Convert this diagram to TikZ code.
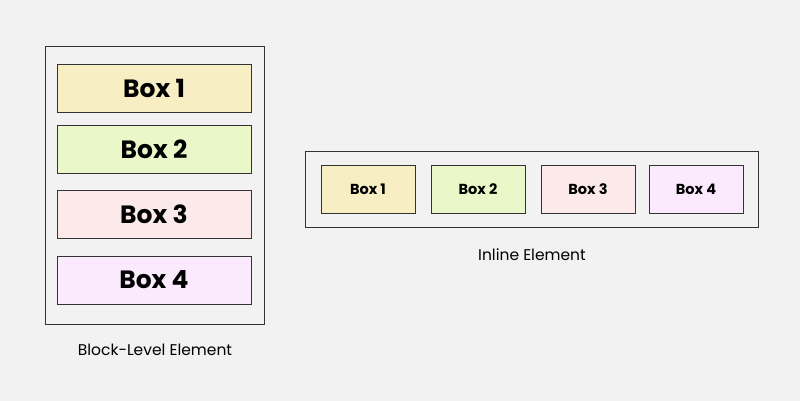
\documentclass[tikz,border=0pt]{standalone}
\usepackage{fontspec}
\setmainfont{Poppins}
\definecolor{bg}{HTML}{F2F2F2}
\definecolor{cA}{HTML}{F8EEC4}
\definecolor{cB}{HTML}{EAF7C8}
\definecolor{cC}{HTML}{FCE9E9}
\definecolor{cD}{HTML}{FBEAFD}
\begin{document}
\begin{tikzpicture}[x=1pt,y=-1pt,
  outer/.style={draw=black!80,line width=0.8pt},
  big/.style={draw=black!80,line width=0.6pt,minimum width=194pt,minimum height=48pt,inner sep=0pt,font=\bfseries\fontsize{25}{27}\selectfont},
  small/.style={draw=black!80,line width=0.6pt,minimum width=94pt,minimum height=48pt,inner sep=0pt,font=\bfseries\fontsize{14.5}{16}\selectfont},
  lab/.style={font=\fontsize{15.5}{17}\selectfont}]
\fill[bg] (0,0) rectangle (800,401);
\useasboundingbox (0,0) rectangle (800,401);
\draw[outer] (45,46) rectangle (264,324);
\node[big,fill=cA] (b1) at (154,88) {Box 1};
\node[big,fill=cB] (b2) at (154,149) {Box 2};
\node[big,fill=cC] (b3) at (154,214) {Box 3};
\node[big,fill=cD] (b4) at (154,280) {Box 4};
\node[lab] (l1) at (155,350) {Block-Level Element};
\draw[outer] (305,151) rectangle (758,227);
\node[small,fill=cA] (s1) at (368,189) {Box 1};
\node[small,fill=cB] (s2) at (478,189) {Box 2};
\node[small,fill=cC] (s3) at (588,189) {Box 3};
\node[small,fill=cD] (s4) at (696,189) {Box 4};
\node[lab] (l2) at (532,255) {Inline Element};
\end{tikzpicture}
\end{document}
